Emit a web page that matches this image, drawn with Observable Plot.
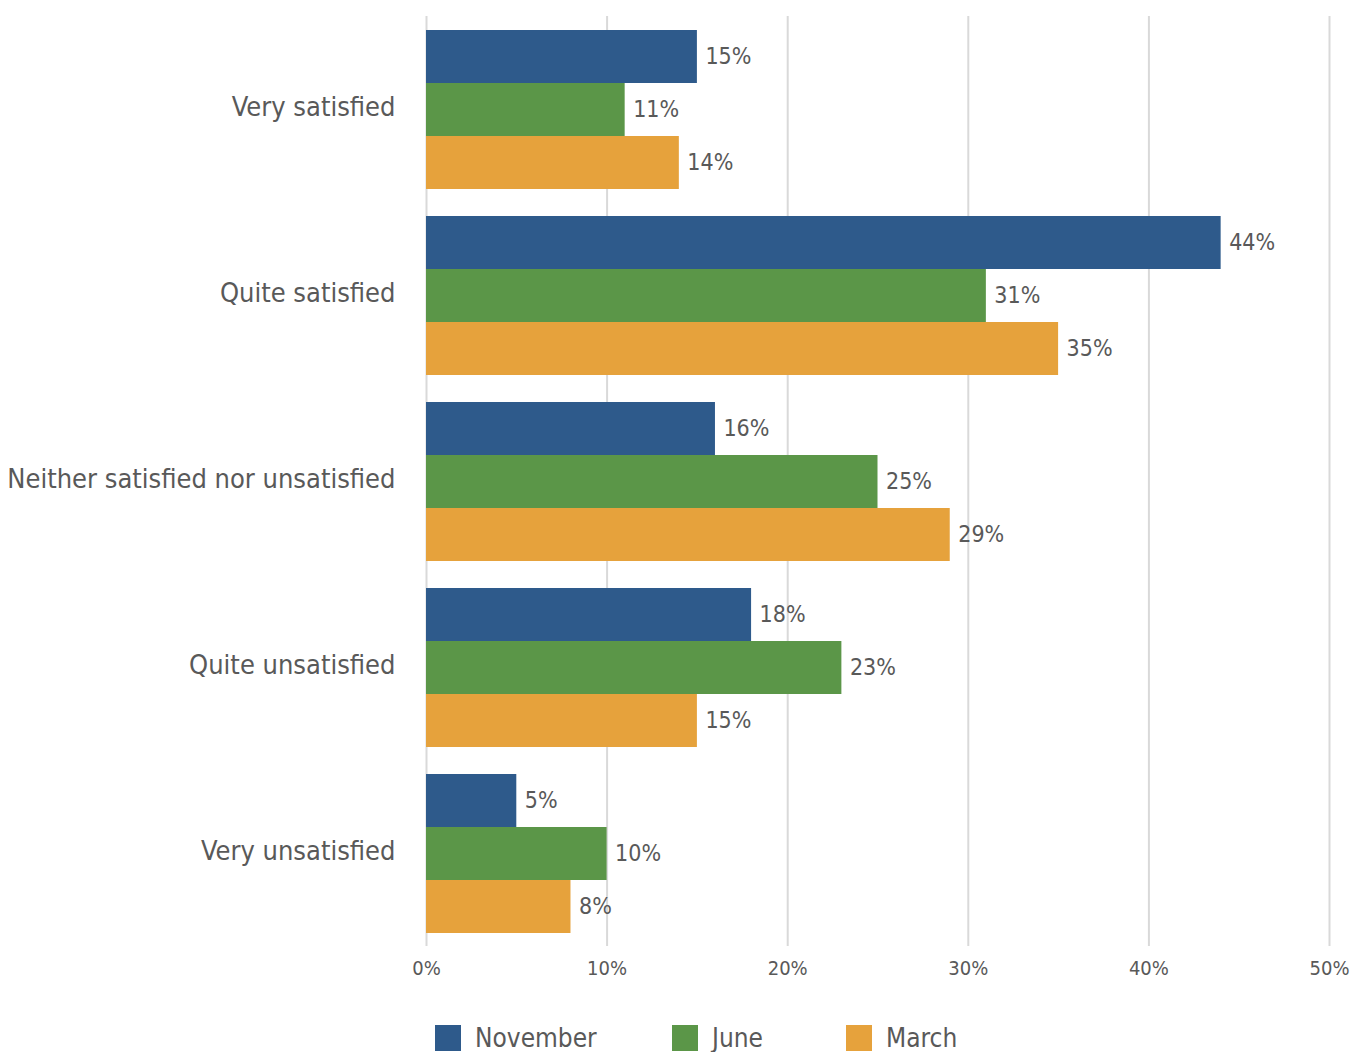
<!DOCTYPE html>
<html><head><meta charset="utf-8">
<script src="https://cdn.jsdelivr.net/npm/d3@7"></script>
<script src="https://cdn.jsdelivr.net/npm/@observablehq/plot@0.6"></script>
<style>
body{margin:0;background:#fff;}
#wrap{position:relative;width:1352px;height:1052px;font-family:"Liberation Sans Narrow","DejaVu Sans Condensed",Lato,sans-serif;color:#595959;}
.leg{position:absolute;top:1025px;display:flex;align-items:center;font-size:26px;line-height:26px;}
.sw{width:26px;height:26px;margin-right:14px;}
</style></head><body><div id="wrap"><div id="chart"></div></div><script>
const categories = ["Very satisfied","Quite satisfied","Neither satisfied nor unsatisfied","Quite unsatisfied","Very unsatisfied"];
const series = ["November","June","March"];
const november = [15,44,16,18,5];
const june = [11,31,25,23,10];
const march = [14,35,29,15,8];
const colors = ["#2E5A8B","#5B9648","#E6A23C"];
const xTicks = [0,10,20,30,40,50];
const legendX = [435,672,846];

const seriesValues = [november, june, march];
const data = categories.flatMap((c,i)=>series.map((s,j)=>({category:c, series:s, value:seriesValues[j][i]})));

const plot = Plot.plot({
  width:1352, height:996, marginLeft:426, marginRight:23, marginTop:16, marginBottom:50,
  style:{fontFamily:'"Liberation Sans Narrow","DejaVu Sans Condensed",Lato,sans-serif', fontSize:"22px", color:"#595959", background:"#fff", overflow:"visible"},
  x:{domain:[0,50], label:null},
  fy:{domain:categories, padding:0, label:null},
  y:{domain:series, paddingInner:0, paddingOuter:0.245, axis:null},
  color:{domain:series, range:colors},
  marks:[
    Plot.gridX(xTicks,{stroke:"#D9D9D9", strokeOpacity:1, strokeWidth:2}),
    Plot.barX(data,{fy:"category", y:"series", x:"value", fill:"series"}),
    Plot.text(data,{fy:"category", y:"series", x:"value", text:d=>d.value+"%", textAnchor:"start", dx:8, fontSize:23, fill:"#595959"}),
    Plot.axisFy({anchor:"left", tickSize:0, tickPadding:31, fontSize:27, dy:-2, label:null, fill:"#595959"}),
    Plot.axisX(xTicks,{anchor:"bottom", tickSize:0, tickPadding:14, tickFormat:d=>d+"%", fontSize:20, label:null, fill:"#595959"})
  ]
});
document.getElementById("chart").appendChild(plot);
const wrap = document.getElementById("wrap");
series.forEach((s,j)=>{
  const d = document.createElement("div");
  d.className="leg"; d.style.left=legendX[j]+"px";
  d.innerHTML = `<span class="sw" style="background:${colors[j]}"></span><span>${s}</span>`;
  wrap.appendChild(d);
});
</script></body></html>
